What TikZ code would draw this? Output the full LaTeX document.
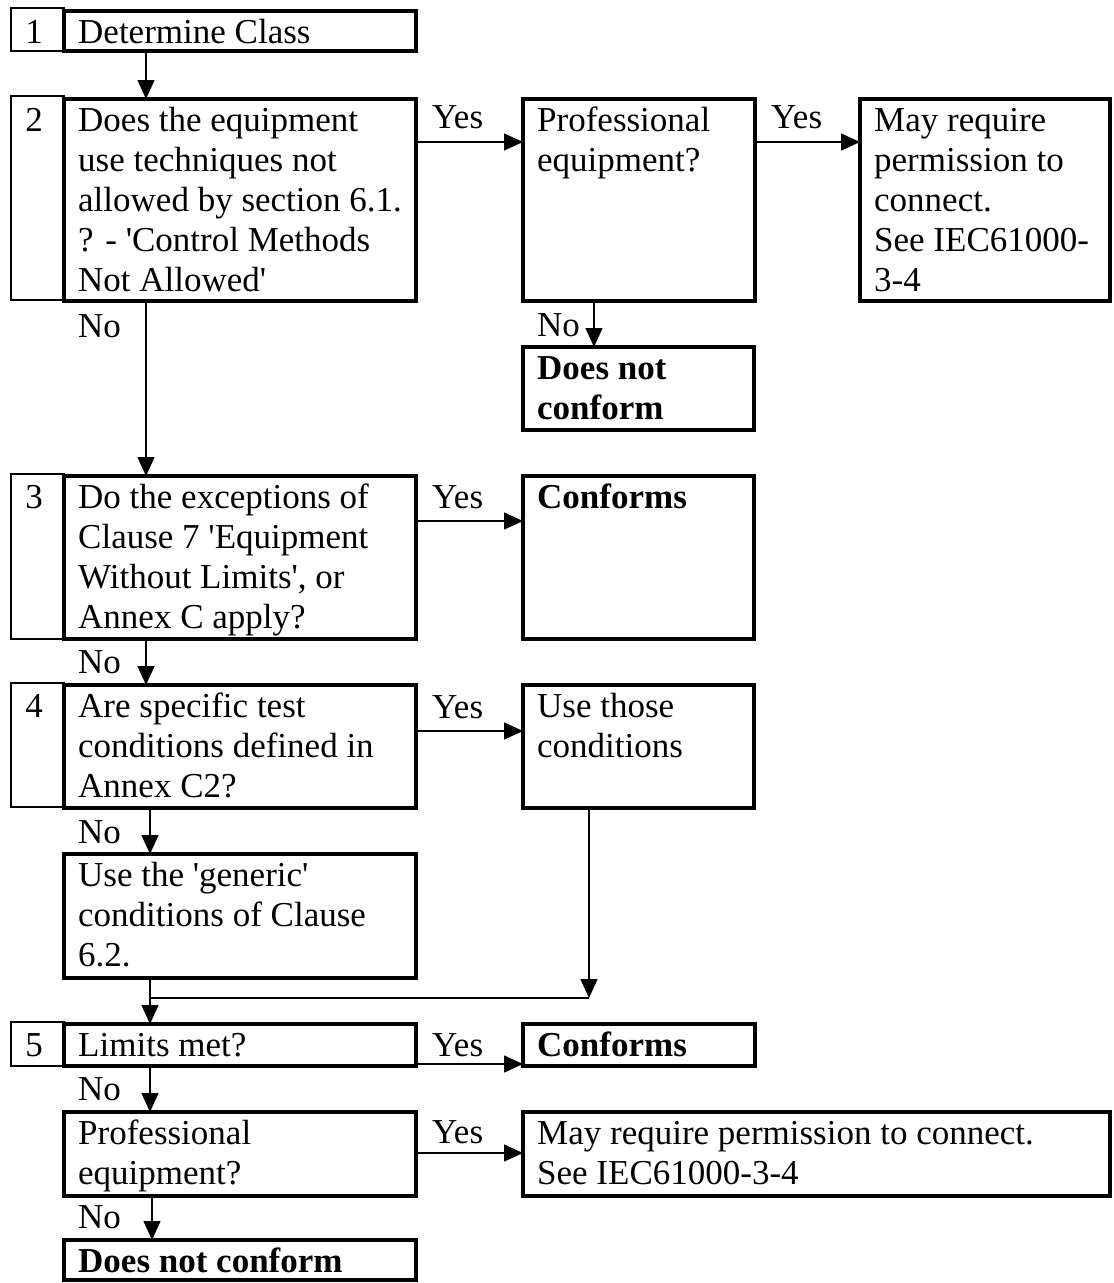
\documentclass[tikz,border=0pt]{standalone}
\usepackage{fontspec}
\setmainfont{Liberation Serif}[Ligatures=TeXOff]
\usetikzlibrary{arrows.meta}
\newcommand\ml[1]{\begin{tabular}[t]{@{}l@{}}#1\end{tabular}}
\begin{document}
\begin{tikzpicture}[x=1pt,y=-1pt,
  mbox/.style={draw, line width=3.6pt, inner sep=0pt, outer sep=0pt, anchor=north west},
  nbox/.style={draw, line width=2pt, inner sep=0pt, outer sep=0pt, anchor=north west},
  txt/.style={anchor=base west, inner sep=0pt, font=\fontsize{35}{40}\selectfont},
  btxt/.style={txt, font=\fontsize{35}{40}\selectfont\bfseries},
  numtxt/.style={anchor=base, inner sep=0pt, font=\fontsize{35}{40}\selectfont},
  conn/.style={line width=1.4pt},
  arr/.style={conn, -{Triangle[length=19pt,width=17pt]}},
  tpos/.style={shift={(14pt,-32pt)}}
]
\useasboundingbox (0,0) rectangle (1114,1283);

% number cells
\node[nbox, minimum width=53pt, minimum height=43pt]  (n1) at (11,8) {};
\node[nbox, minimum width=53pt, minimum height=204pt] (n2) at (11,96) {};
\node[nbox, minimum width=53pt, minimum height=165pt] (n3) at (11,474) {};
\node[nbox, minimum width=53pt, minimum height=124pt] (n4) at (11,683) {};
\node[nbox, minimum width=53pt, minimum height=44pt]  (n5) at (11,1022) {};

% main column
\node[mbox, minimum width=352pt, minimum height=40pt]  (b1) at (64,11) {};
\node[mbox, minimum width=352pt, minimum height=202pt] (b2) at (64,99) {};
\node[mbox, minimum width=352pt, minimum height=163pt] (b3) at (64,476) {};
\node[mbox, minimum width=352pt, minimum height=123pt] (b4) at (64,685) {};
\node[mbox, minimum width=352pt, minimum height=124pt] (bgen) at (64,854) {};
\node[mbox, minimum width=352pt, minimum height=42pt]  (b5) at (64,1024) {};
\node[mbox, minimum width=352pt, minimum height=84pt]  (bprofb) at (64,1112) {};
\node[mbox, minimum width=352pt, minimum height=40pt]  (bdncb) at (64,1240) {};

% right column
\node[mbox, minimum width=232pt, minimum height=202pt] (bproft) at (523,99) {};
\node[mbox, minimum width=250pt, minimum height=202pt] (bmayt) at (860,99) {};
\node[mbox, minimum width=231pt, minimum height=83pt]  (bdnct) at (523,347) {};
\node[mbox, minimum width=231pt, minimum height=163pt] (bconft) at (523,476) {};
\node[mbox, minimum width=231pt, minimum height=123pt] (buse) at (523,685) {};
\node[mbox, minimum width=232pt, minimum height=42pt]  (bconfb) at (523,1024) {};
\node[mbox, minimum width=587pt, minimum height=84pt]  (bmayb) at (523,1112) {};

% numbers
\node[numtxt] at (34,43) {1};
\node[numtxt] at (34,131) {2};
\node[numtxt] at (34,508) {3};
\node[numtxt] at (34,717) {4};
\node[numtxt] at (34,1056) {5};

% texts
\node[txt] at ([tpos]b1.north west) {Determine Class};
\node[txt] at ([tpos]b2.north west) {\ml{Does the equipment\\use techniques not\\allowed by section 6.1.\\? - 'Control Methods\\Not Allowed'}};
\node[txt] at ([tpos]b3.north west) {\ml{Do the exceptions of\\Clause 7 'Equipment\\Without Limits', or\\Annex C apply?}};
\node[txt] at ([tpos]b4.north west) {\ml{Are specific test\\conditions defined in\\Annex C2?}};
\node[txt] at ([tpos]bgen.north west) {\ml{Use the 'generic'\\conditions of Clause\\6.2.}};
\node[txt] at ([tpos]b5.north west) {Limits met?};
\node[txt] at ([tpos]bprofb.north west) {\ml{Professional\\equipment?}};
\node[btxt] at ([tpos]bdncb.north west) {Does not conform};
\node[txt] at ([tpos]bproft.north west) {\ml{Professional\\equipment?}};
\node[txt] at ([tpos]bmayt.north west) {\ml{May require\\permission to\\connect.\\See IEC61000-\\3-4}};
\node[btxt] at ([tpos]bdnct.north west) {\ml{Does not\\conform}};
\node[btxt] at ([tpos]bconft.north west) {Conforms};
\node[txt] at ([tpos]buse.north west) {\ml{Use those\\conditions}};
\node[btxt] at ([tpos]bconfb.north west) {Conforms};
\node[txt] at ([tpos]bmayb.north west) {\ml{May require permission to connect.\\See IEC61000-3-4}};

% Yes / No labels
\node[txt] at (432,128) {Yes};
\node[txt] at (771,128) {Yes};
\node[txt] at (432,508) {Yes};
\node[txt] at (432,718) {Yes};
\node[txt] at (432,1056) {Yes};
\node[txt] at (432,1143) {Yes};
\node[txt] at (78,337) {No};
\node[txt] at (537,336) {No};
\node[txt] at (78,673) {No};
\node[txt] at (78,843) {No};
\node[txt] at (78,1100) {No};
\node[txt] at (78,1228) {No};

% connectors
\draw[arr] ([xshift=82pt]b1.south west) -- ([xshift=82pt]b2.north west);
\draw[arr] ([xshift=82pt]b2.south west) -- ([xshift=82pt]b3.north west);
\draw[arr] ([yshift=-43pt]b2.north east) -- ([yshift=-43pt]bproft.north west);
\draw[arr] ([yshift=-43pt]bproft.north east) -- ([yshift=-43pt]bmayt.north west);
\draw[arr] ([xshift=71pt]bproft.south west) -- ([xshift=71pt]bdnct.north west);
\draw[arr] ([yshift=-45pt]b3.north east) -- ([yshift=-45pt]bconft.north west);
\draw[arr] ([xshift=82pt]b3.south west) -- ([xshift=82pt]b4.north west);
\draw[arr] ([yshift=-46pt]b4.north east) -- ([yshift=-46pt]buse.north west);
\draw[arr] ([xshift=86pt]b4.south west) -- ([xshift=86pt]bgen.north west);
\coordinate (jl) at (150,998);
\coordinate (jr) at (589,998);
\draw[conn] (bgen.south -| jl) -- (jl) -- (jr);
\draw[arr] (buse.south -| jr) -- (jr);
\draw[arr] (jl) -- (b5.north -| jl);
\draw[arr] ([yshift=-40pt]b5.north east) -- ([yshift=-40pt]bconfb.north west);
\draw[arr] ([xshift=86pt]b5.south west) -- ([xshift=86pt]bprofb.north west);
\draw[arr] ([yshift=-41pt]bprofb.north east) -- ([yshift=-41pt]bmayb.north west);
\draw[arr] ([xshift=88pt]bprofb.south west) -- ([xshift=88pt]bdncb.north west);
\end{tikzpicture}
\end{document}
